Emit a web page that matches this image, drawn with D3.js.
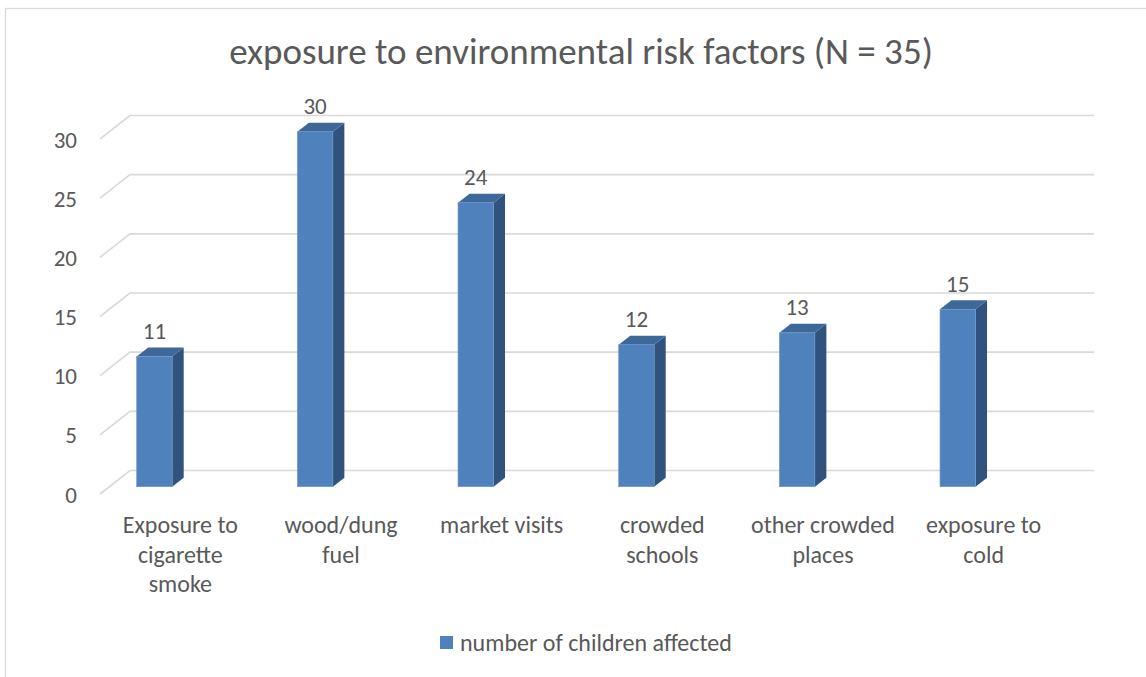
<!DOCTYPE html>
<html>
<head>
<meta charset="utf-8">
<script src="https://cdn.jsdelivr.net/npm/d3@7"></script>
<style>
  html, body { margin: 0; padding: 0; background: #fff; }
  svg { display: block; }
  text { font-family: Carlito, Calibri, Lato, "Noto Sans", sans-serif; fill: #595959; }
</style>
</head>
<body>
<svg id="chart" width="1146" height="677"></svg>
<script>
// ---- data ----
const title = "exposure to environmental risk factors (N = 35)";
const categories = ["Exposure to cigarette smoke", "wood/dung fuel", "market visits", "crowded schools", "other crowded places", "exposure to cold"];
const categoryLines = [["Exposure to", "cigarette", "smoke"], ["wood/dung", "fuel"], ["market visits"], ["crowded", "schools"], ["other crowded", "places"], ["exposure to", "cold"]];
const values = [11, 30, 24, 12, 13, 15];
const yTicks = [0, 5, 10, 15, 20, 25, 30];
const seriesName = "number of children affected";

// ---- layout ----
const svg = d3.select("#chart");
const W = 1146, H = 677;
const frontLeft = 100, frontRight = 1064;
const wallDX = 30, wallDY = -23.5;   // back wall offset
const barOffDX = 9.3, barOffDY = -7.3; // bar front face offset from front plane
const barDX = 11.5, barDY = -9;        // bar depth
const colFront = "#4f81bd", colTop = "#3e6899", colSide = "#30527d";

const x = d3.scaleBand().domain(categories).range([frontLeft, frontRight]).paddingInner(0).paddingOuter(0);
const y = d3.scaleLinear().domain([0, 30]).range([494, 139]);

// chart border
svg.append("rect").attr("x", 5.5).attr("y", 8.5).attr("width", W + 10).attr("height", H + 10)
  .attr("fill", "none").attr("stroke", "#d9d9d9").attr("stroke-width", 1.3);

// title
svg.append("text").attr("x", 581).attr("y", 64).attr("text-anchor", "middle")
  .style("font-size", "37px").text(title);

// gridlines (3D wall + floor)
const grid = svg.append("g");
yTicks.forEach(t => {
  const y0 = y(t);
  grid.append("path")
    .attr("d", `M${frontLeft},${y0}L${frontLeft + wallDX},${y0 + wallDY}L${frontRight + wallDX},${y0 + wallDY}`)
    .attr("fill", "none").attr("stroke", "#d9d9d9").attr("stroke-width", 1.6);
});

// y axis labels
const yAxis = d3.axisLeft(y).tickValues(yTicks).tickSize(0).tickPadding(0);
const gy = svg.append("g").attr("transform", "translate(77,0)").call(yAxis);
gy.select(".domain").remove();
gy.selectAll("text").style("font-size", "23px").attr("fill", "#595959")
  .style("font-family", "Carlito, Calibri, Lato, 'Noto Sans', sans-serif").attr("dy", "0.35em");

// bars
const bw = x.bandwidth();
const barW = bw * 0.221;
const barInset = bw * 0.1705;
const bars = svg.append("g").selectAll("g").data(categories).join("g");
bars.each(function(c, i) {
  const g = d3.select(this);
  const x0 = x(c) + barOffDX + barInset;
  const x1 = x0 + barW;
  const yb = y(0) + barOffDY;
  const yt = y(values[i]) + barOffDY;
  // side
  g.append("path").attr("d", `M${x1},${yt}L${x1 + barDX},${yt + barDY}L${x1 + barDX},${yb + barDY}L${x1},${yb}Z`)
    .attr("fill", colSide);
  // top
  g.append("path").attr("d", `M${x0},${yt}L${x0 + barDX},${yt + barDY}L${x1 + barDX},${yt + barDY}L${x1},${yt}Z`)
    .attr("fill", colTop);
  // front
  g.append("rect").attr("x", x0).attr("y", yt).attr("width", barW).attr("height", yb - yt)
    .attr("fill", colFront).attr("stroke", "#6f97c8").attr("stroke-width", 0.6);
  // data label
  g.append("text").attr("x", (x0 + x1) / 2).attr("y", yt + barDY - 16.5).attr("dy", "0.35em")
    .attr("text-anchor", "middle").style("font-size", "23px").text(values[i]);
});

// category labels
const xl = svg.append("g");
categories.forEach((c, i) => {
  const cx = x(c) + bw / 2;
  const t = xl.append("text").attr("text-anchor", "middle").style("font-size", "24px");
  categoryLines[i].forEach((line, k) => {
    t.append("tspan").attr("x", cx).attr("y", 525 + k * 29.5).attr("dy", "0.35em").text(line);
  });
});

// legend
svg.append("rect").attr("x", 440).attr("y", 636).attr("width", 13).attr("height", 13).attr("fill", colFront);
svg.append("text").attr("x", 460).attr("y", 642.5).attr("dy", "0.35em").style("font-size", "24px").text(seriesName);
</script>
</body>
</html>
